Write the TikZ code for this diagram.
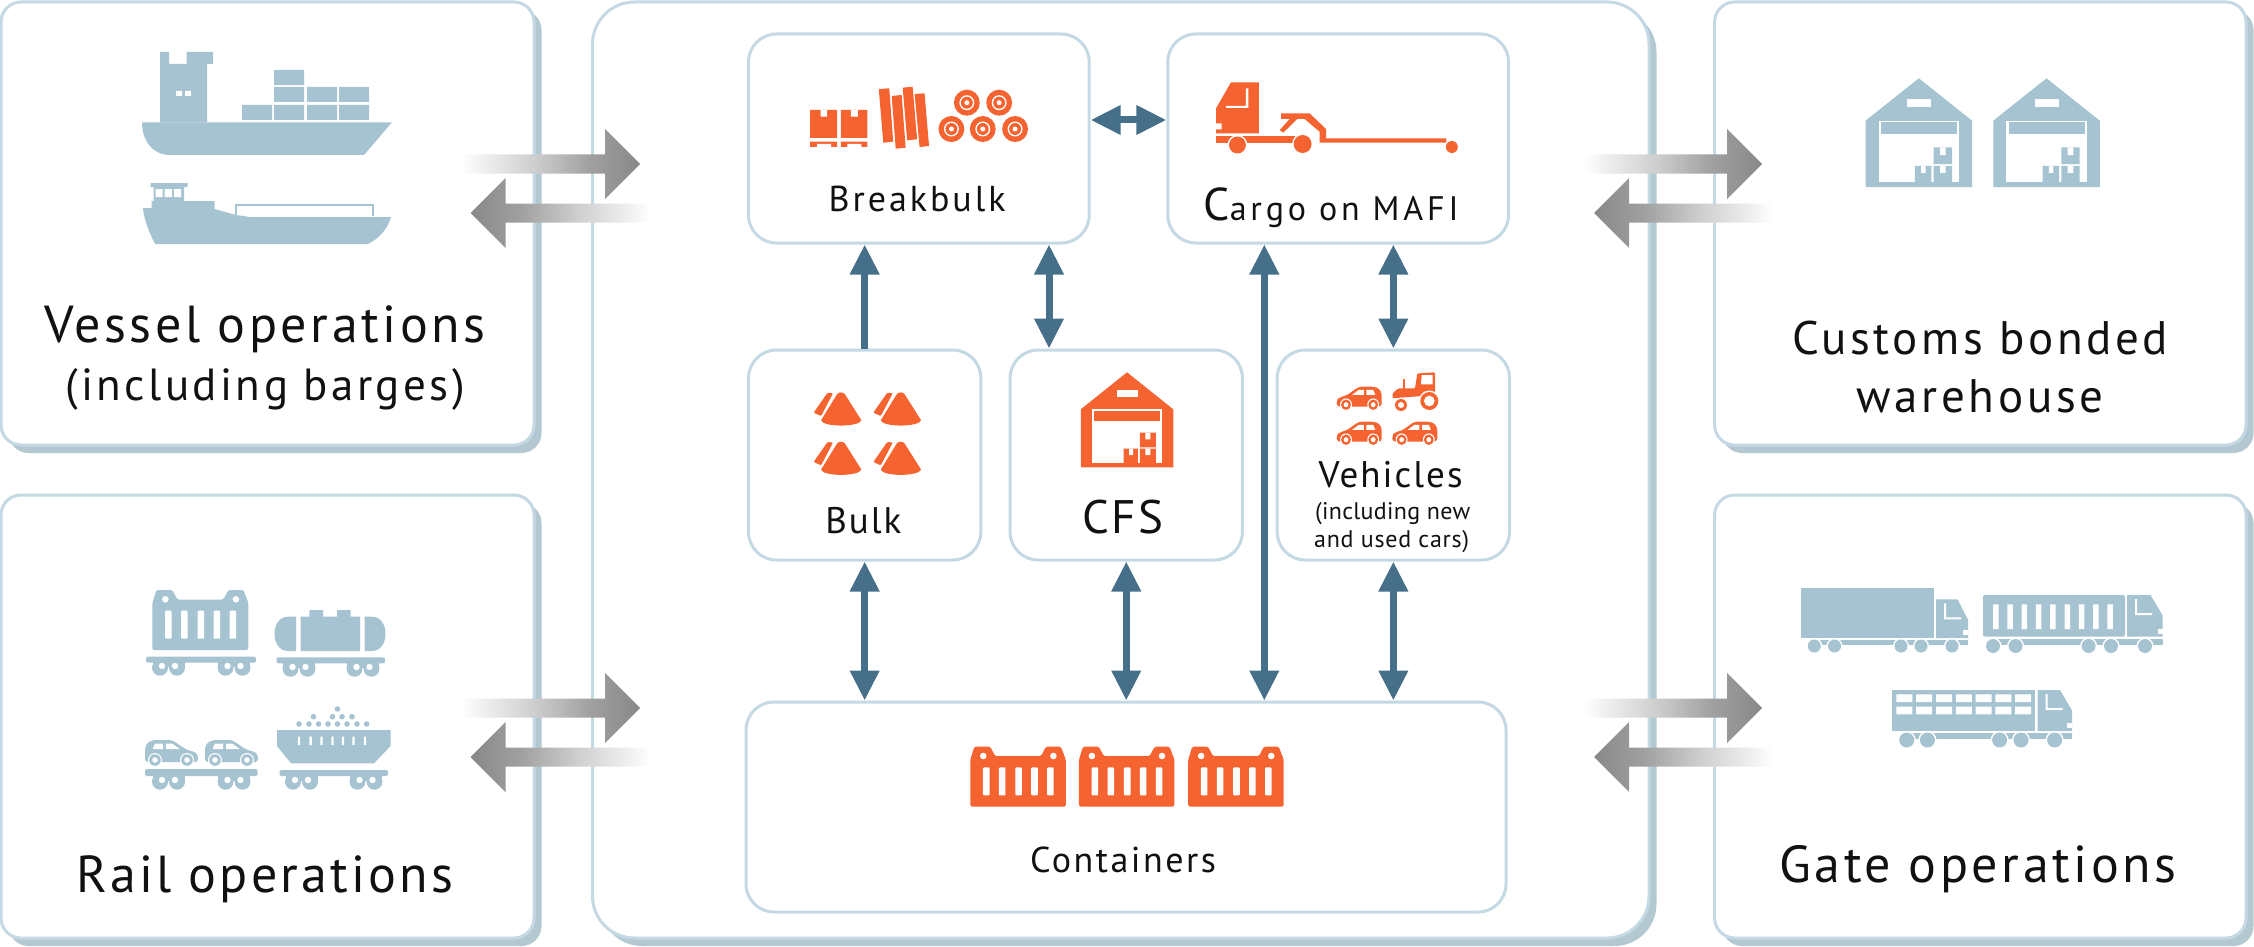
\documentclass[tikz,border=0pt]{standalone}
\usepackage{fontspec}
\setmainfont{PT Sans}
\usetikzlibrary{arrows.meta,shadows,calc}
\definecolor{iblue}{HTML}{A6C3D1}
\definecolor{iorange}{HTML}{F56331}
\definecolor{bline}{HTML}{C4D9E4}
\definecolor{shadowc}{HTML}{B4C8D2}
\definecolor{arrowc}{HTML}{46708A}
\definecolor{biggray}{HTML}{888888}
\definecolor{txt}{HTML}{111111}
\definecolor{fadea}{HTML}{F2F2F2}
\definecolor{fadeb}{HTML}{CFCFCF}
\definecolor{fadec}{HTML}{A0A0A0}
\pgfdeclarehorizontalshading{fadeR}{100bp}{color(0bp)=(white); color(25bp)=(white); color(30bp)=(fadea); color(45bp)=(fadeb); color(61bp)=(fadec); color(75bp)=(biggray); color(100bp)=(biggray)}
\tikzset{
  outerbox/.style={draw=bline,line width=3pt,fill=white,rounded corners=20pt,inner sep=0pt,
    general shadow={fill=shadowc,shadow xshift=7.5pt,shadow yshift=-8pt}},
  mainbox/.style={outerbox,rounded corners=42pt},
  innerbox/.style={draw=bline,line width=3pt,fill=white,rounded corners=28pt,inner sep=0pt},
  onearrow/.style={draw=arrowc,line width=7pt,-{Triangle[length=30pt,width=28pt,fill=arrowc]}},
  twoarrow/.style={draw=arrowc,line width=7pt,{Triangle[length=30pt,width=28pt,fill=arrowc]}-{Triangle[length=30pt,width=28pt,fill=arrowc]}},
  lbl/.style={anchor=base,inner sep=0pt,text=txt}
}
% label set at a given size and stretched by tracking to a given width
\newcommand\fitlabel[3]{\fontsize{#1}{#1}\selectfont
  \setbox0=\hbox{#3}\dimen0=\wd0
  \setbox2=\hbox{\addfontfeature{LetterSpace=10}#3}\dimen2=\wd2
  \pgfmathsetmacro\lsp{10*(#2-\the\dimen0)/(\the\dimen2-\the\dimen0)}%
  \edef\lsptmp{\noexpand\addfontfeature{LetterSpace=\lsp}}\lsptmp #3}
% big gray arrows
\newcommand\rarrow[2]{\path[shading=fadeR]
  ($(#1)+(0,-9.5)$) -- ($(#2)+(-35,-9.5)$) -- ($(#2)+(-35,-35)$) -- (#2) -- ($(#2)+(-35,35)$) -- ($(#2)+(-35,9.5)$) -- ($(#1)+(0,9.5)$) -- cycle;}
\newcommand\larrow[2]{\path[shading=fadeR,shading angle=180]
  ($(#1)+(0,-9.5)$) -- ($(#2)+(35,-9.5)$) -- ($(#2)+(35,-35)$) -- (#2) -- ($(#2)+(35,35)$) -- ($(#2)+(35,9.5)$) -- ($(#1)+(0,9.5)$) -- cycle;}
% container
\newcommand\contico[3]{\begin{scope}[shift={(#1,#2)}]
  \fill[#3,rounded corners=1.5pt] (0,13) -- (4,0) -- (20,0) -- (25,9.5) -- (71,9.5) -- (76,0) -- (91,0) -- (96,13) -- (96,60) -- (0,60) -- cycle;
  \foreach \cx in {16,32,48.5,64.5,80.5} {\fill[white,rounded corners=1pt] (\cx-3.3,20.7) rectangle (\cx+3.3,48.7);}
  \fill[white] (13,9.3) circle (3.3) (83.5,9.3) circle (3.3);
  \end{scope}}
% bogie
\newcommand\bogie[2]{\fill[iblue] (#1-8.5,#2+5.7) circle (8) (#1+8.5,#2+5.7) circle (8);
  \fill[iblue] (#1-16,#2) rectangle (#1+16,#2+5);
  \fill[white] (#1-6.5,#2+4) circle (3.2) (#1+6.5,#2+4) circle (3.2);}
% car facing right, w 53 h 26
\newcommand\carico[5]{\begin{scope}[shift={(#1,#2)},xscale=#3,yscale=#4]
  \fill[#5,rounded corners=3pt] (0,22) -- (0,7) -- (3,2) -- (9,0) -- (27,0) -- (41,9.5) -- (50,12) -- (53,15) -- (53,22) -- cycle;
  \fill[white] (10,3.5) -- (18,3.5) -- (18,9.2) -- (7.5,9.2) -- cycle (21,3.5) -- (27,3.5) -- (35,9.2) -- (21,9.2) -- cycle;
  \foreach \wx in {10,42} {\fill[white] (\wx,20) circle (7); \fill[#5] (\wx,20) circle (5.8); \fill[white] (\wx,20) circle (2.8);}
  \end{scope}}
% warehouse, origin at the roof apex
\newcommand\whico[4]{\begin{scope}[shift={(#1,#2)},scale=#4]
  \fill[#3] (0,0) -- (46.5,37) -- (46.5,95) -- (-46.5,95) -- (-46.5,37) -- cycle;
  \fill[white] (-35,37) rectangle (35,91);
  \fill[#3] (-33,38.4) rectangle (33.5,48.7);
  \fill[white] (-10,17.7) rectangle (11,25);
  \fill[#3] (13,60.4) rectangle (29,75) (-3.5,76.4) rectangle (11,91) (13,76.4) rectangle (29,91);
  \fill[white] (18.5,60.4) rectangle (23.5,67) (2,76.4) rectangle (6,82.7) (18.5,76.4) rectangle (23.5,82.7);
  \end{scope}}
% bulk cone, origin at the apex
\newcommand\coneico[2]{\begin{scope}[shift={(#1,#2)}]
  \fill[iorange] (-4,2) .. controls (-2,-0.5) and (2,-0.5) .. (4,2) -- (20.5,28) .. controls (18,35) and (-18,35) .. (-20,28) -- cycle;
  \fill[iorange,rounded corners=1pt] (-13.5,0.4) -- (-8,1) -- (-20,23.7) -- (-27.5,20.4) -- cycle;
  \end{scope}}
% road wheels
\newcommand\rwheels[3]{\foreach \wx in {#1} {\fill[white] (\wx,#2) circle (#3+1.5); \fill[iblue] (\wx,#2) circle (#3);}}
% tractor cab in blue: left, right, slant start, top, bottom
\newcommand\bluecab[5]{\fill[iblue] (#1,#4) -- (#3,#4) -- (#2,#4+20.5) -- (#2,#5) -- (#1,#5) -- cycle;
  \fill[white] (#1+8,#4+4) rectangle (#1+10,#4+19) (#1+8,#4+18) rectangle (#1+25,#4+20);
  \fill[white] (#2-5,#5-8) rectangle (#2,#5-3);}
\begin{document}
\begin{tikzpicture}[x=1pt,y=-1pt]
\useasboundingbox (0,0) rectangle (2254,947);
\fill[white] (0,0) rectangle (2254,947);
% ---------- outer boxes
\node[outerbox,minimum width=533pt,minimum height=443pt] (vessel) at (267.5,223.5) {};
\node[outerbox,minimum width=533pt,minimum height=443pt] (rail) at (267.5,716.5) {};
\node[mainbox,minimum width=1056.5pt,minimum height=936pt] (main) at (1120.75,470) {};
\node[outerbox,minimum width=531.4pt,minimum height=443pt] (customs) at (1980.3,223.5) {};
\node[outerbox,minimum width=531.4pt,minimum height=443pt] (gate) at (1980.3,716.5) {};
% ---------- inner boxes
\node[innerbox,minimum width=340.7pt,minimum height=209pt] (bb) at (918.85,138.5) {};
\node[innerbox,minimum width=340.7pt,minimum height=209pt] (mafi) at (1338.15,138.5) {};
\node[innerbox,minimum width=232.3pt,minimum height=210pt] (bulk) at (864.65,455) {};
\node[innerbox,minimum width=232.3pt,minimum height=210pt] (cfs) at (1126.25,455) {};
\node[innerbox,minimum width=232.3pt,minimum height=210pt] (veh) at (1393.35,455) {};
\node[innerbox,minimum width=760pt,minimum height=210pt] (cont) at (1126,807) {};
% ---------- connectors
\coordinate (bbcfs) at ([xshift=130.15pt]bb.south);
\coordinate (mafilong) at ([xshift=-73.85pt]mafi.south);
\draw[onearrow] (bulk.north) -- (bulk.north |- bb.south);
\draw[twoarrow] (bbcfs) -- (bbcfs |- cfs.north);
\draw[twoarrow] ([yshift=18.5pt]bb.east) -- ([yshift=18.5pt]mafi.west);
\draw[twoarrow] (mafilong) -- (mafilong |- cont.north);
\draw[twoarrow] (veh.north) -- (veh.north |- mafi.south);
\draw[twoarrow] (bulk.south) -- (bulk.south |- cont.north);
\draw[twoarrow] (cfs.south) -- (cfs.south |- cont.north);
\draw[twoarrow] (veh.south) -- (veh.south |- cont.north);
% ---------- big arrows
\coordinate (a1s) at (461,164);  \coordinate (a1t) at (640,164);
\coordinate (a2s) at (650,213);  \coordinate (a2t) at (470.5,213);
\coordinate (a3s) at (461,708);  \coordinate (a3t) at (640,708);
\coordinate (a4s) at (650,757);  \coordinate (a4t) at (470.5,757);
\coordinate (a5s) at (1584,164); \coordinate (a5t) at (1762,164);
\coordinate (a6s) at (1773,213); \coordinate (a6t) at (1594,213);
\coordinate (a7s) at (1584,708); \coordinate (a7t) at (1762,708);
\coordinate (a8s) at (1773,757); \coordinate (a8t) at (1594,757);
\rarrow{a1s}{a1t}\larrow{a2s}{a2t}\rarrow{a3s}{a3t}\larrow{a4s}{a4t}
\rarrow{a5s}{a5t}\larrow{a6s}{a6t}\rarrow{a7s}{a7t}\larrow{a8s}{a8t}
% ---------- container ship
\fill[iblue] (142,122.3) -- (392,122.3) -- (364,155) -- (170,155) .. controls (152,155) and (142,140) .. cycle;
\fill[iblue] (160,122.5) -- (160,52) -- (169,52) -- (169,64) -- (186.5,64) -- (186.5,52) -- (213,52) -- (213,64) -- (207,64) -- (207,122.5) -- cycle;
\fill[white] (176,91) rectangle (182,96) (185,91) rectangle (191,96);
\fill[iblue] (242,105) rectangle (272,120) (274,105) rectangle (304,120) (307,105) rectangle (337,120) (339,105) rectangle (369,120)
  (274,87) rectangle (304,102) (307,87) rectangle (337,102) (339,87) rectangle (369,102) (274,70) rectangle (304,85);
% ---------- barge
\fill[iblue] (143,208) -- (151.5,208) -- (151.5,201) -- (214.6,201) -- (214.6,209) -- (235.7,215) -- (250,217) -- (391,217) .. controls (388,228) and (380,238) .. (368,244) -- (155,244) .. controls (149,232) and (144,220) .. cycle;
\fill[iblue] (153.6,187) rectangle (184,201) (150.7,183) rectangle (187.7,187);
\fill[white] (155.7,189) rectangle (162.5,197) (164.5,189) rectangle (172,197) (174,189) rectangle (181,197);
\draw[iblue,line width=2pt] (235.5,215) -- (235.5,205) -- (372.5,205) -- (372.5,216);
% ---------- rail icons
\contico{152.4}{590}{iblue}
\fill[iblue,rounded corners=2pt] (146,656.7) rectangle (256,662.7);
\bogie{168.5}{662}\bogie{234}{662}
\fill[iblue] (296,616.7) -- (288,616.7) .. controls (270,616.7) and (270,651) .. (288,651) -- (296,651) -- cycle;
\fill[iblue] (364.5,616.7) -- (372,616.7) .. controls (390,616.7) and (390,651) .. (372,651) -- (364.5,651) -- cycle;
\fill[iblue] (300.5,616.7) rectangle (360,651) (309.4,610) rectangle (323,617) (337,610) rectangle (350.6,617);
\fill[iblue,rounded corners=2pt] (276.5,657.3) rectangle (385,663.3);
\bogie{299}{663}\bogie{363}{663}
\carico{145}{740}{1}{1}{iblue}
\carico{205}{740}{1}{1}{iblue}
\fill[iblue,rounded corners=2pt] (145,769) rectangle (257.6,776);
\bogie{168.5}{776}\bogie{234}{776}
\fill[iblue] (277,730) -- (390.6,730) -- (390.6,746) -- (374,763.3) -- (291,763.3) -- (277,746) -- cycle;
\fill[white] \foreach \sx in {299,310.6,321.5,332.5,343,353.5,365} {(\sx-1.2,736.7) rectangle (\sx+1.2,745)};
\fill[iblue] \foreach \dx in {299,309,318.6,328,337.5,347,357,366.6} {(\dx,724) circle (2.8)};
\fill[iblue] \foreach \dx in {313.5,332.5,342,352} {(\dx,716.7) circle (2.8)};
\fill[iblue] (337.5,709) circle (2.8);
\fill[iblue,rounded corners=2pt] (279.5,770) rectangle (388,776);
\bogie{301.5}{776}\bogie{366}{776}
% ---------- customs warehouses
\whico{1918.8}{78.3}{iblue}{1.145}
\whico{2046.5}{78.3}{iblue}{1.145}
% ---------- gate trucks
\fill[iblue] (1801,588) rectangle (1934.3,638);
\bluecab{1936}{1968}{1957.5}{599.3}{638}
\fill[iblue] (1814,640) rectangle (1968,645);
\rwheels{1814.3,1834.5,1901,1921,1952}{646}{6.5}
\fill[iblue,rounded corners=2pt] (1983,595) rectangle (2125,636.7);
\fill[white] \foreach \sn in {0,...,8} {(1993+\sn*14.3,604.3) rectangle (1998.5+\sn*14.3,629)};
\bluecab{2127}{2162.6}{2150.5}{595}{636.7}
\fill[iblue] (1993,639) rectangle (2162.6,645);
\rwheels{1993,2015.5,2088.6,2111,2145}{646}{7}
\fill[iblue] (1892,690) rectangle (2035,731);
\fill[white] \foreach \sn in {0,...,6} {(1896.4+\sn*19.8,694.3) rectangle (1912.4+\sn*19.8,702) (1896.4+\sn*19.8,706.7) rectangle (1912.4+\sn*19.8,714.3)};
\bluecab{2037.5}{2072}{2060}{690}{731}
\fill[iblue] (1907,733) rectangle (2072,739);
\rwheels{1906.7,1927.4,1999.6,2021,2054.6}{740}{7.5}
% ---------- vehicles (full-size coordinates)
\carico{1381.7}{386.7}{-0.85}{0.9}{iorange}
\carico{1381.7}{421.7}{-0.85}{0.9}{iorange}
\carico{1437.3}{421.7}{-0.85}{0.9}{iorange}
\fill[iorange,rounded corners=1pt] (1417.3,373.5) -- (1435,372.3) -- (1435,395) -- (1392.7,398.3) -- (1392.7,393.3) -- (1398.3,388.3) -- (1415,388.3) -- cycle;
\fill[iorange] (1402.7,379) rectangle (1405,389);
\fill[white] (1421.7,375) -- (1432.7,375) -- (1432.7,384.3) -- (1421,384.3) -- cycle;
\fill[white] (1429.3,401) circle (10.5) (1401,405) circle (7.5);
\fill[iorange] (1429.3,401) circle (9) (1401,405) circle (6);
\fill[white] (1429.3,401) circle (5.3) (1401,405) circle (3);
\begin{scope}[shift={(740,0)},xscale=0.9949,shift={(-740,0)}]
% ---------- breakbulk icon
\fill[iorange] (810.5,110) rectangle (837.5,138) (841.5,110) rectangle (868,138) (810.5,141.7) rectangle (837.5,147) (841.5,141.7) rectangle (868,147);
\fill[white] (821,110) rectangle (827.5,116.7) (851.5,110) rectangle (858.5,116.7) (817.5,144) rectangle (831.5,147) (848,144) rectangle (862,147);
\fill[iorange] (879.5,89) -- (890,88.3) -- (894,141.7) -- (884,142.7) -- cycle
  (892.5,96) -- (902.5,95) -- (906.5,147.7) -- (896.5,148.7) -- cycle
  (903.5,87.7) -- (913.5,86.7) -- (918,139.3) -- (908,140.3) -- cycle
  (915.5,94) -- (925.5,93.3) -- (930,146) -- (920.5,147) -- cycle;
\foreach \rx/\ry in {968/102.7,1000.5/102.7,952.5/129,984/129,1016.5/129} {
  \fill[iorange] (\rx,\ry) circle (13);
  \fill[white] (\rx,\ry) circle (7.5);
  \fill[iorange] (\rx,\ry) circle (6);
  \fill[white] (\rx,\ry) circle (2.5);}
% ---------- truck with MAFI
\fill[iorange] (1218.5,108.3) -- (1233.5,82.3) -- (1261.5,82.3) -- (1261.5,133.3) -- (1218.5,133.3) -- cycle;
\fill[white] (1248.5,88.3) rectangle (1251,108) (1228.5,106) rectangle (1251,108) (1218.5,123.3) rectangle (1224,129.3);
\fill[iorange] (1218.5,136) rectangle (1300,143.3);
\fill[iorange] (1284,113.3) -- (1312.5,113.3) -- (1329,129) -- (1329,138.3) -- (1450,138.3) -- (1450,142.7) -- (1322.5,142.7) -- (1322.5,131.7) -- (1307.5,119) -- (1284,119) -- cycle;
\fill[iorange] (1292.5,119) -- (1300,119) -- (1286,132.7) -- (1282.5,130) -- cycle;
\fill[white] (1240,145) circle (10) (1305.5,144) circle (10.5);
\fill[iorange] (1240,145) circle (8.5) (1305.5,144) circle (9) (1455.5,147) circle (6);
% ---------- bulk cones
\coneico{841.5}{392.3}\coneico{901.5}{392.3}\coneico{841.5}{441.6}\coneico{901.5}{441.6}
% ---------- CFS warehouse
\whico{1129}{372.3}{iorange}{1}
% ---------- containers
\contico{971.5}{746.7}{iorange}
\contico{1080.7}{746.7}{iorange}
\contico{1190.5}{746.7}{iorange}
% ---------- labels in the middle
\node[lbl] (lbb) at (918,211) {\fitlabel{36}{177}{Breakbulk}};
\node[lbl] (lmafi) at (1334,220) {\fitlabel{34}{255}{{\fontsize{46}{46}\selectfont C}argo on MAFI}};
\node[lbl] (lbulk) at (864,533) {\fitlabel{37}{76}{Bulk}};
\node[lbl] (lcfs) at (1125,533) {\fitlabel{47}{81}{CFS}};
\node[lbl] (lveh1) at (1394,487) {\fitlabel{37}{144}{Vehicles}};
\node[lbl] (lveh2) at (1396,519) {\fitlabel{24}{155}{(including new}};
\node[lbl] (lveh3) at (1395,547) {\fitlabel{24}{155}{and used cars)}};
\node[lbl] (lcont) at (1125,872) {\fitlabel{36}{186}{Containers}};
\end{scope}
% ---------- side labels
\node[lbl] (lv1) at (265,342) {\fitlabel{52}{441}{Vessel operations}};
\node[lbl] (lv2) at (265,400) {\fitlabel{45}{400}{(including barges)}};
\node[lbl] (lr) at (265,892) {\fitlabel{52}{377}{Rail operations}};
\node[lbl] (lc1) at (1980,354) {\fitlabel{47}{376}{Customs bonded}};
\node[lbl] (lc2) at (1980,412) {\fitlabel{47}{247}{warehouse}};
\node[lbl] (lg) at (1978,882) {\fitlabel{52}{397}{Gate operations}};
\end{tikzpicture}
\end{document}
